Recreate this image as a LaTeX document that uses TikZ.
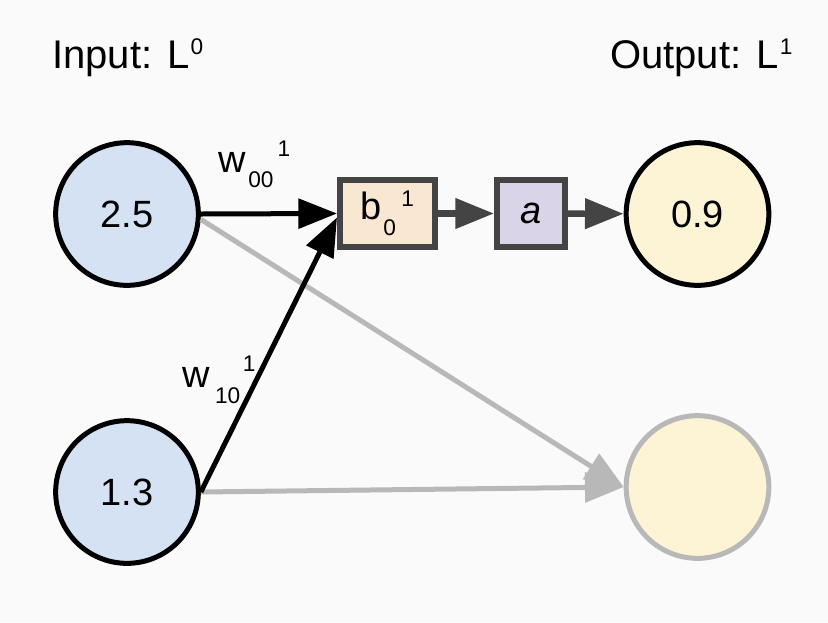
\documentclass[tikz,border=0pt]{standalone}
\usepackage{fontspec}
\setmainfont{Liberation Sans}
\usetikzlibrary{arrows.meta}
\definecolor{bgc}{HTML}{FAFAFA}
\definecolor{inblue}{HTML}{D4E2F3}
\definecolor{outyel}{HTML}{FDF3D5}
\definecolor{bfill}{HTML}{FAE7D2}
\definecolor{afill}{HTML}{D9D4E8}
\definecolor{darkg}{HTML}{444444}
\definecolor{graybd}{HTML}{B8B8B8}
\newcommand{\mainf}{\fontsize{28.5}{32}\selectfont}
\newcommand{\titlef}{\fontsize{30}{34}\selectfont}
\newcommand{\scf}{\fontsize{17}{19}\selectfont}
\begin{document}
\begin{tikzpicture}[x=0.75pt,y=-0.75pt,
  neuron/.style={circle, line width=3.75pt, minimum size=107pt, inner sep=0pt, font=\mainf},
  inp/.style={neuron, draw=black, fill=inblue},
  outp/.style={neuron, draw=black, fill=outyel},
  outq/.style={neuron, draw=graybd, fill=outyel},
  opbox/.style={rectangle, draw=darkg, line width=4.25pt, inner sep=0pt, minimum height=50.5pt, font=\mainf},
  warrow/.style={-{Triangle[length=29pt,width=22pt]}, line width=3.75pt, draw=black},
  darrow/.style={-{Triangle[length=29pt,width=22pt]}, line width=4.75pt, draw=darkg},
  garrow/.style={-{Triangle[length=29pt,width=22pt]}, line width=3.75pt, draw=graybd},
  lbl/.style={anchor=base west, inner sep=0pt, font=\mainf}
]
\fill[bgc] (0,0) rectangle (828,622);
\useasboundingbox (0,0) rectangle (828,622);

\node[lbl, font=\titlef] (tin) at (52,68) {Input: L\hspace{1pt}\raisebox{10pt}{\scf 0}};
\node[lbl, font=\titlef] (tout) at (610,68) {Output: L\hspace{1pt}\raisebox{10pt}{\scf 1}};

\node[inp] (in0) at (127,214) {2.5};
\node[inp] (in1) at (127,492) {1.3};
\node[outp] (out0) at (697.5,214) {0.9};
\node[outq] (out1) at (697.5,487) {};

\node[opbox, fill=bfill, minimum width=71.5pt] (b) at (387.5,213.5)
  {b\hspace{1pt}\raisebox{-12.5pt}{\scf 0}\hspace{4pt}\raisebox{9.5pt}{\scf 1}};
\node[opbox, fill=afill, minimum width=51.25pt] (a) at (531,213.5) {\itshape a};

\node[lbl] (w00) at (218,172) {w\hspace{2pt}\raisebox{-11.25pt}{\scf 00}\hspace{3pt}\raisebox{12pt}{\scf 1}};
\node[lbl] (w10) at (182,387) {w\hspace{4pt}\raisebox{-12pt}{\scf 10}\hspace{2pt}\raisebox{12pt}{\scf 1}};

\draw[garrow] ([yshift=-4pt]in0.east) -- (out1.west);
\draw[garrow] (in1.east) -- (out1.west);
\draw[warrow] (in0.east) -- (b.west);
\draw[warrow] (in1.east) -- ([yshift=-3pt]b.west);
\draw[darrow] (b) -- (a);
\draw[darrow] (a) -- (out0);
\end{tikzpicture}
\end{document}
